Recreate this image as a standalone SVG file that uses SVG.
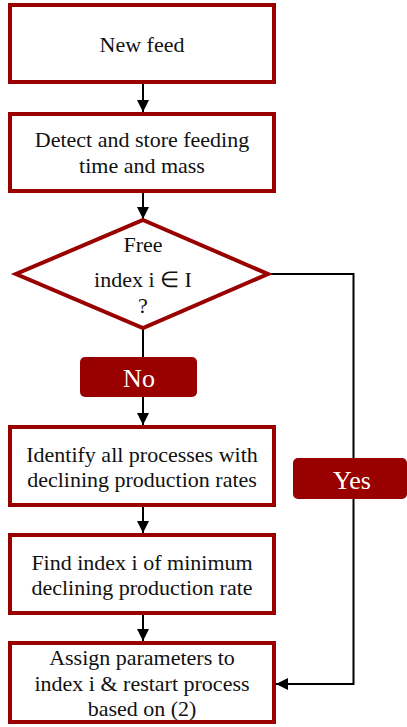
<svg xmlns="http://www.w3.org/2000/svg" width="407" height="727" viewBox="0 0 407 727">
<defs>
<style>
.box{fill:#fff;stroke:#990000;stroke-width:4}
.lbl{fill:#990000;stroke:none}
.t{font-size:22px;fill:#111;text-anchor:middle}
.w{font-size:26px;fill:#fff;text-anchor:middle}
.c{fill:none;stroke:#000;stroke-width:2}
</style>
<marker id="ah" markerWidth="12" markerHeight="12" viewBox="0 0 12 12" refX="12" refY="6" orient="auto" markerUnits="userSpaceOnUse">
<path d="M0,0 L12,6 L0,12 z" fill="#000"/>
</marker>
</defs>
<rect width="407" height="727" fill="#fff"/>
<g id="connectors">
<line class="c" x1="143" y1="84" x2="143" y2="112" marker-end="url(#ah)"/>
<line class="c" x1="143" y1="193" x2="143" y2="219" marker-end="url(#ah)"/>
<line class="c" x1="143" y1="329" x2="143" y2="357"/>
<line class="c" x1="143" y1="397" x2="143" y2="425" marker-end="url(#ah)"/>
<line class="c" x1="143" y1="507" x2="143" y2="533" marker-end="url(#ah)"/>
<line class="c" x1="143" y1="615" x2="143" y2="641" marker-end="url(#ah)"/>
<polyline class="c" points="269,274 353.5,274 353.5,684 276,684" marker-end="url(#ah)"/>
</g>
<g font-family="'Liberation Serif', 'Times New Roman', Tinos, serif">
<g id="n1">
<rect class="box" x="10" y="5" width="264" height="77"/>
<text class="t" x="142" y="52">New feed</text>
</g>
<g id="n2">
<rect class="box" x="10" y="114" width="264" height="77"/>
<text class="t" x="142" y="147">Detect and store feeding</text>
<text class="t" x="142" y="173">time and mass</text>
</g>
<g id="n3">
<polygon class="box" points="143,220 268,274 143,328 16,274" stroke-width="3"/>
<text class="t" x="143" y="252">Free</text>
<text class="t" x="143" y="287">index i ∈ I</text>
<text class="t" x="143" y="313">?</text>
</g>
<g id="no">
<rect class="lbl" x="80" y="357" width="117" height="40" rx="5"/>
<text class="w" x="139" y="387">No</text>
</g>
<g id="yes">
<rect class="lbl" x="293" y="458" width="114" height="41" rx="5"/>
<text class="w" x="352" y="489">Yes</text>
</g>
<g id="n4">
<rect class="box" x="10" y="427" width="264" height="78"/>
<text class="t" x="142" y="462">Identify all processes with</text>
<text class="t" x="142" y="487">declining production rates</text>
</g>
<g id="n5">
<rect class="box" x="10" y="535" width="264" height="78"/>
<text class="t" x="142" y="570">Find index i of minimum</text>
<text class="t" x="142" y="595">declining production rate</text>
</g>
<g id="n6">
<rect class="box" x="10" y="643" width="264" height="79"/>
<text class="t" x="142" y="665">Assign parameters to</text>
<text class="t" x="142" y="691">index i &amp; restart process</text>
<text class="t" x="142" y="716">based on (2)</text>
</g>
</g>
</svg>
